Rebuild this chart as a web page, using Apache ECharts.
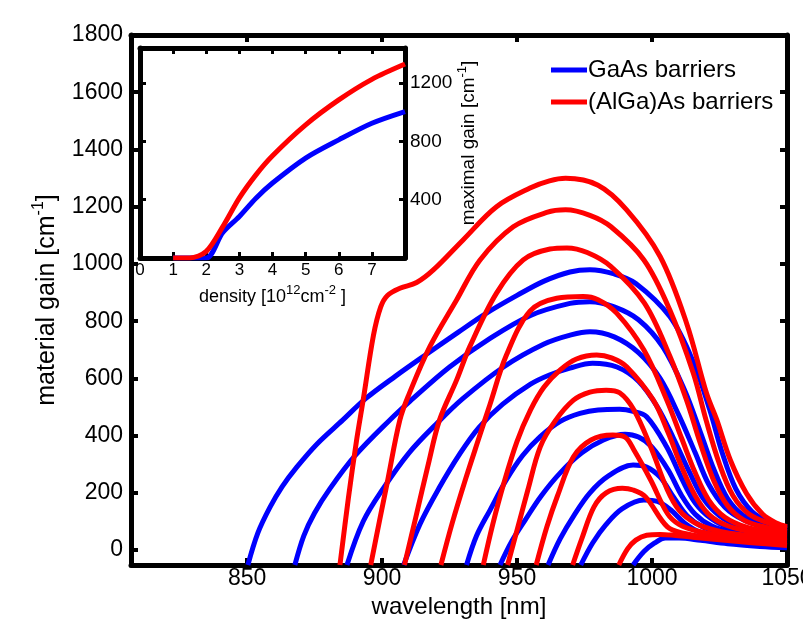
<!DOCTYPE html>
<html>
<head>
<meta charset="utf-8">
<script src="https://cdn.jsdelivr.net/npm/echarts@6/dist/echarts.min.js"></script>
<style>
  html, body { margin: 0; padding: 0; background: #fff; }
  #chart { width: 803px; height: 621px; }
</style>
</head>
<body>
<div id="chart"></div>
<script>
  // tick labels
  const wavelengthTicks = [850, 900, 950, 1000, 1050];
  const gainTicks = [0, 200, 400, 600, 800, 1000, 1200, 1400, 1600, 1800];
  const densityLabels = [0, 1, 2, 3, 4, 5, 6, 7];
  const densityTicks = [1, 2, 3, 4, 5, 6, 7];
  const maxGainTicks = [400, 800, 1200];

  // inset: maximal gain vs density
  const insetDensity = [1, 1.5, 2, 2.5, 3, 3.5, 4, 5, 6, 7, 8];
  const insetGaAs = [0, 0, 0, 175, 285, 410, 514, 685, 810, 924, 1004];
  const insetAlGaAs = [0, 0, 45, 215, 412, 570, 701, 913, 1084, 1225, 1330];

  // gain spectra, GaAs barriers: [wavelength nm, gain cm^-1]
  const gaas1 = [[850.3,-52],[854,60],[858.5,150],[863,222],[868.4,290],[876,372],[885.5,455],[894,530],[905,608],[917,688],[928,760],[938.7,828],[950,890],[960,940],[969.6,972],[977,980],[986,965],[994,932],[1006.6,816],[1015,664],[1021.4,490],[1026,340],[1031,215],[1037,135],[1043,100],[1050,80]];
  const gaas2 = [[867.7,-52],[871,50],[875,130],[880.7,215],[890,330],[902.9,455],[910.3,520],[925,640],[940,740],[955,820],[969.6,862],[977,868],[986,850],[995,805],[1004,710],[1012,560],[1018,410],[1023,280],[1028,180],[1034,120],[1042,90],[1050,72]];
  const gaas3 = [[887,-52],[893,100],[900.4,215],[910,340],[920,440],[930,530],[945,640],[960,720],[970,752],[977,763],[986,745],[995,690],[1003,600],[1010,470],[1016,340],[1021,230],[1027,150],[1034,105],[1042,80],[1050,64]];
  const gaas4 = [[908,-52],[914,90],[921,215],[928.9,338],[936,430],[944.7,510],[955,580],[962,612],[969.6,636],[978,653],[987,640],[995,590],[1002,500],[1008,390],[1014,270],[1019,180],[1025,120],[1032,85],[1041,65],[1050,55]];
  const gaas5 = [[931.3,-52],[935,50],[940,140],[946,245],[952,330],[958.5,396],[966,450],[973.3,478],[980,490],[988,492],[993,485],[998,466],[1005.4,361],[1011,250],[1016,165],[1022,110],[1029,78],[1039,58],[1050,46]];
  const gaas6 = [[943.7,-52],[948,30],[953,105],[959,190],[966,270],[974,340],[982,385],[990,405],[995,395],[1000,360],[1006,280],[1011,190],[1016,125],[1022,85],[1030,62],[1040,48],[1050,38]];
  const gaas7 = [[961.5,-52],[966,40],[971,120],[977,200],[984,260],[993,297],[998,290],[1003,255],[1008,185],[1013,120],[1019,80],[1027,58],[1038,42],[1050,32]];
  const gaas8 = [[973.6,-52],[978,25],[983,90],[989,145],[997,175],[1002,170],[1007,140],[1012,95],[1018,62],[1026,45],[1037,32],[1050,22]];
  const gaas9 = [[993,-52],[997,-5],[1001,25],[1005,42],[1010,42],[1018,34],[1028,22],[1040,13],[1050,8]];

  // gain spectra, (AlGa)As barriers
  const algaas1 = [[884.4,-52],[887.5,180],[890.5,380],[893.1,530],[896.8,750],[899.5,850],[902,890],[906.6,915],[912.8,935],[919,979],[930,1084],[942.4,1200],[954.8,1265],[962,1290],[968,1299],[980,1275],[990.6,1189],[1003,1026],[1012.8,793],[1020.2,548],[1024,455],[1029,315],[1035,198],[1041,125],[1046,95],[1050,82]];
  const algaas2 = [[895.8,-52],[899,100],[902,240],[906.6,455],[910,545],[917.7,711],[927.6,874],[936.3,1014],[948.6,1130],[961,1180],[968,1189],[977,1170],[984.8,1130],[997,1014],[1006.6,839],[1015.3,618],[1020,455],[1025,300],[1030,190],[1036,125],[1043,95],[1050,75]];
  const algaas3 = [[908.3,-52],[912.5,115],[917,295],[921.3,455],[927.6,594],[932.5,711],[942.4,898],[952.3,1014],[962.2,1052],[968.5,1056],[976,1040],[984.8,991],[997.2,863],[1006.7,676],[1012.8,524],[1018,370],[1023,240],[1028,155],[1034,105],[1042,80],[1050,66]];
  const algaas4 = [[921.8,-52],[926,95],[931,250],[936,395],[940,510],[946,680],[954.8,835],[964.7,880],[974.5,886],[980,875],[986.9,828],[997,699],[1005.5,524],[1011,390],[1016,270],[1021,175],[1027,115],[1035,80],[1043,65],[1050,58]];
  const algaas5 = [[937.5,-52],[941,90],[945,230],[950,380],[955,490],[960,570],[966,630],[972,668],[979.5,682],[985,672],[990.6,641],[1000.5,524],[1006,410],[1011,290],[1016,190],[1021,125],[1028,85],[1038,62],[1050,50]];
  const algaas6 = [[946.5,-52],[950,70],[954,210],[958.6,361],[964,450],[970.9,524],[977,552],[983,559],[988,550],[993.3,490],[999.5,361],[1005.7,210],[1010,140],[1016,95],[1024,68],[1035,52],[1050,42]];
  const algaas7 = [[957.1,-52],[961,80],[965,190],[970.9,326],[977.4,385],[985.5,402],[990,395],[993.3,350],[999.5,245],[1005.7,128],[1010,90],[1017,66],[1027,50],[1038,40],[1050,33]];
  const algaas8 = [[970.6,-52],[974,40],[978.5,151],[983,200],[989,216],[993,210],[997.6,186],[1005.7,81],[1012,58],[1020,46],[1032,37],[1050,28]];
  const algaas9 = [[987.7,-52],[991,5],[994,35],[998,52],[1003,55],[1008,52],[1015,45],[1025,36],[1037,26],[1050,16]];

  const gaasCurves = [gaas1, gaas2, gaas3, gaas4, gaas5, gaas6, gaas7, gaas8, gaas9];
  const algaasCurves = [algaas1, algaas2, algaas3, algaas4, algaas5, algaas6, algaas7, algaas8, algaas9];

  const BLUE = '#0000ff';
  const RED = '#ff0000';
  const FONT = 'Liberation Sans, Arial, Helvetica, sans-serif';

  const chart = echarts.init(document.getElementById('chart'), null, { renderer: 'canvas' });

  const frameLine = { onZero: false, lineStyle: { color: '#000', width: 5 } };
  const plain = (v) => String(v);

  const spectrum = (data, name, color) => ({
    name: name,
    type: 'line',
    xAxisIndex: 0,
    yAxisIndex: 0,
    data: data,
    smooth: 0.35,
    showSymbol: false,
    lineStyle: { color: color, width: 5 },
    itemStyle: { color: color },
    clip: true,
    z: color === RED ? 3 : 2,
  });

  const option = {
    animation: false,
    backgroundColor: '#fff',
    textStyle: { fontFamily: FONT, color: '#000' },
    legend: {
      data: ['GaAs barriers', '(AlGa)As barriers'],
      orient: 'vertical',
      left: 546,
      top: 53,
      itemWidth: 36,
      itemHeight: 5,
      itemGap: 8,
      icon: 'rect',
      textStyle: { fontSize: 24, color: '#000', fontFamily: FONT, padding: [0, 0, 0, -4] },
    },
    grid: [
      { left: 131, right: 16, top: 35, bottom: 56, show: false, outerBoundsMode: 'none' },
      { left: 140, right: 398, top: 48, bottom: 363, show: true, backgroundColor: '#fff', borderWidth: 0, z: 5, outerBoundsMode: 'none' },
    ],
    xAxis: [
      {
        type: 'value', gridIndex: 0, position: 'bottom', min: 807, max: 1050,
        axisLine: frameLine,
        axisTick: { inside: true, length: 7, lineStyle: { color: '#000', width: 4 }, customValues: wavelengthTicks },
        axisLabel: { fontSize: 23, color: '#000', margin: 2, customValues: wavelengthTicks, formatter: plain, fontFamily: FONT },
        splitLine: { show: false },
        name: 'wavelength [nm]',
        nameLocation: 'middle',
        nameGap: 21,
        nameTextStyle: { fontSize: 24, color: '#000', fontFamily: FONT },
      },
      {
        type: 'value', gridIndex: 0, position: 'top', min: 807, max: 1050,
        axisLine: frameLine,
        axisTick: { inside: true, length: 7, lineStyle: { color: '#000', width: 4 }, customValues: wavelengthTicks },
        axisLabel: { show: false },
        splitLine: { show: false },
      },
      {
        type: 'value', gridIndex: 1, position: 'bottom', min: 0, max: 8,
        axisLine: frameLine,
        axisTick: { inside: true, length: 6, lineStyle: { color: '#000', width: 3 }, customValues: densityTicks },
        axisLabel: { fontSize: 17, color: '#000', margin: 4, customValues: densityLabels, formatter: plain, fontFamily: FONT },
        splitLine: { show: false },
        name: '{t|density [10}{s|12}{t|cm}{s|-2}{t| ]}',
        nameLocation: 'middle',
        nameGap: 26,
        nameTextStyle: {
          rich: {
            t: { fontSize: 18, color: '#000', fontFamily: FONT },
            s: { fontSize: 13, color: '#000', fontFamily: FONT, padding: [0, 0, 14, 0] },
          },
        },
        z: 6,
      },
      {
        type: 'value', gridIndex: 1, position: 'top', min: 0, max: 8,
        axisLine: frameLine,
        axisTick: { inside: true, length: 6, lineStyle: { color: '#000', width: 3 }, customValues: densityTicks },
        axisLabel: { show: false },
        splitLine: { show: false },
        z: 6,
      },
    ],
    yAxis: [
      {
        type: 'value', gridIndex: 0, position: 'left', min: -52, max: 1800,
        axisLine: frameLine,
        axisTick: { inside: true, length: 7, lineStyle: { color: '#000', width: 4 }, customValues: gainTicks },
        axisLabel: { fontSize: 23, color: '#000', margin: 8, customValues: gainTicks, formatter: plain, fontFamily: FONT },
        splitLine: { show: false },
        name: '{t|material gain [cm}{s|-1}{t|]}',
        nameLocation: 'middle',
        nameGap: 68,
        nameTextStyle: {
          rich: {
            t: { fontSize: 25, color: '#000', fontFamily: FONT },
            s: { fontSize: 16, color: '#000', fontFamily: FONT, padding: [0, 0, 16, 0] },
          },
        },
      },
      {
        type: 'value', gridIndex: 0, position: 'right', min: -52, max: 1800,
        axisLine: frameLine,
        axisTick: { inside: true, length: 7, lineStyle: { color: '#000', width: 4 }, customValues: gainTicks },
        axisLabel: { show: false },
        splitLine: { show: false },
      },
      {
        type: 'value', gridIndex: 1, position: 'left', min: 0, max: 1440,
        axisLine: frameLine,
        axisTick: { inside: true, length: 6, lineStyle: { color: '#000', width: 3 }, customValues: maxGainTicks },
        axisLabel: { show: false },
        splitLine: { show: false },
        z: 6,
      },
      {
        type: 'value', gridIndex: 1, position: 'right', min: 0, max: 1440,
        axisLine: frameLine,
        axisTick: { inside: true, length: 6, lineStyle: { color: '#000', width: 3 }, customValues: maxGainTicks },
        axisLabel: { fontSize: 19, color: '#000', margin: 5, customValues: maxGainTicks, formatter: plain, fontFamily: FONT },
        splitLine: { show: false },
        name: '{t|maximal gain [cm}{s|-1}{t|]}',
        nameLocation: 'middle',
        nameRotate: 90,
        nameGap: 49,
        nameTextStyle: {
          padding: [0, 0, 0, 20],
          rich: {
            t: { fontSize: 19, color: '#000', fontFamily: FONT },
            s: { fontSize: 13, color: '#000', fontFamily: FONT, padding: [0, 0, 13, 0] },
          },
        },
        z: 6,
      },
    ],
    series: [
      ...gaasCurves.map((c) => spectrum(c, 'GaAs barriers', BLUE)),
      ...algaasCurves.map((c) => spectrum(c, '(AlGa)As barriers', RED)),
      {
        name: 'GaAs barriers',
        type: 'line',
        xAxisIndex: 2,
        yAxisIndex: 2,
        data: insetDensity.map((d, i) => [d, insetGaAs[i]]),
        smooth: 0.3,
        showSymbol: false,
        lineStyle: { color: BLUE, width: 5 },
        itemStyle: { color: BLUE },
        z: 7,
      },
      {
        name: '(AlGa)As barriers',
        type: 'line',
        xAxisIndex: 2,
        yAxisIndex: 2,
        data: insetDensity.map((d, i) => [d, insetAlGaAs[i]]),
        smooth: 0.3,
        showSymbol: false,
        lineStyle: { color: RED, width: 5 },
        itemStyle: { color: RED },
        z: 8,
      },
    ],
  };

  chart.setOption(option);
</script>
</body>
</html>
